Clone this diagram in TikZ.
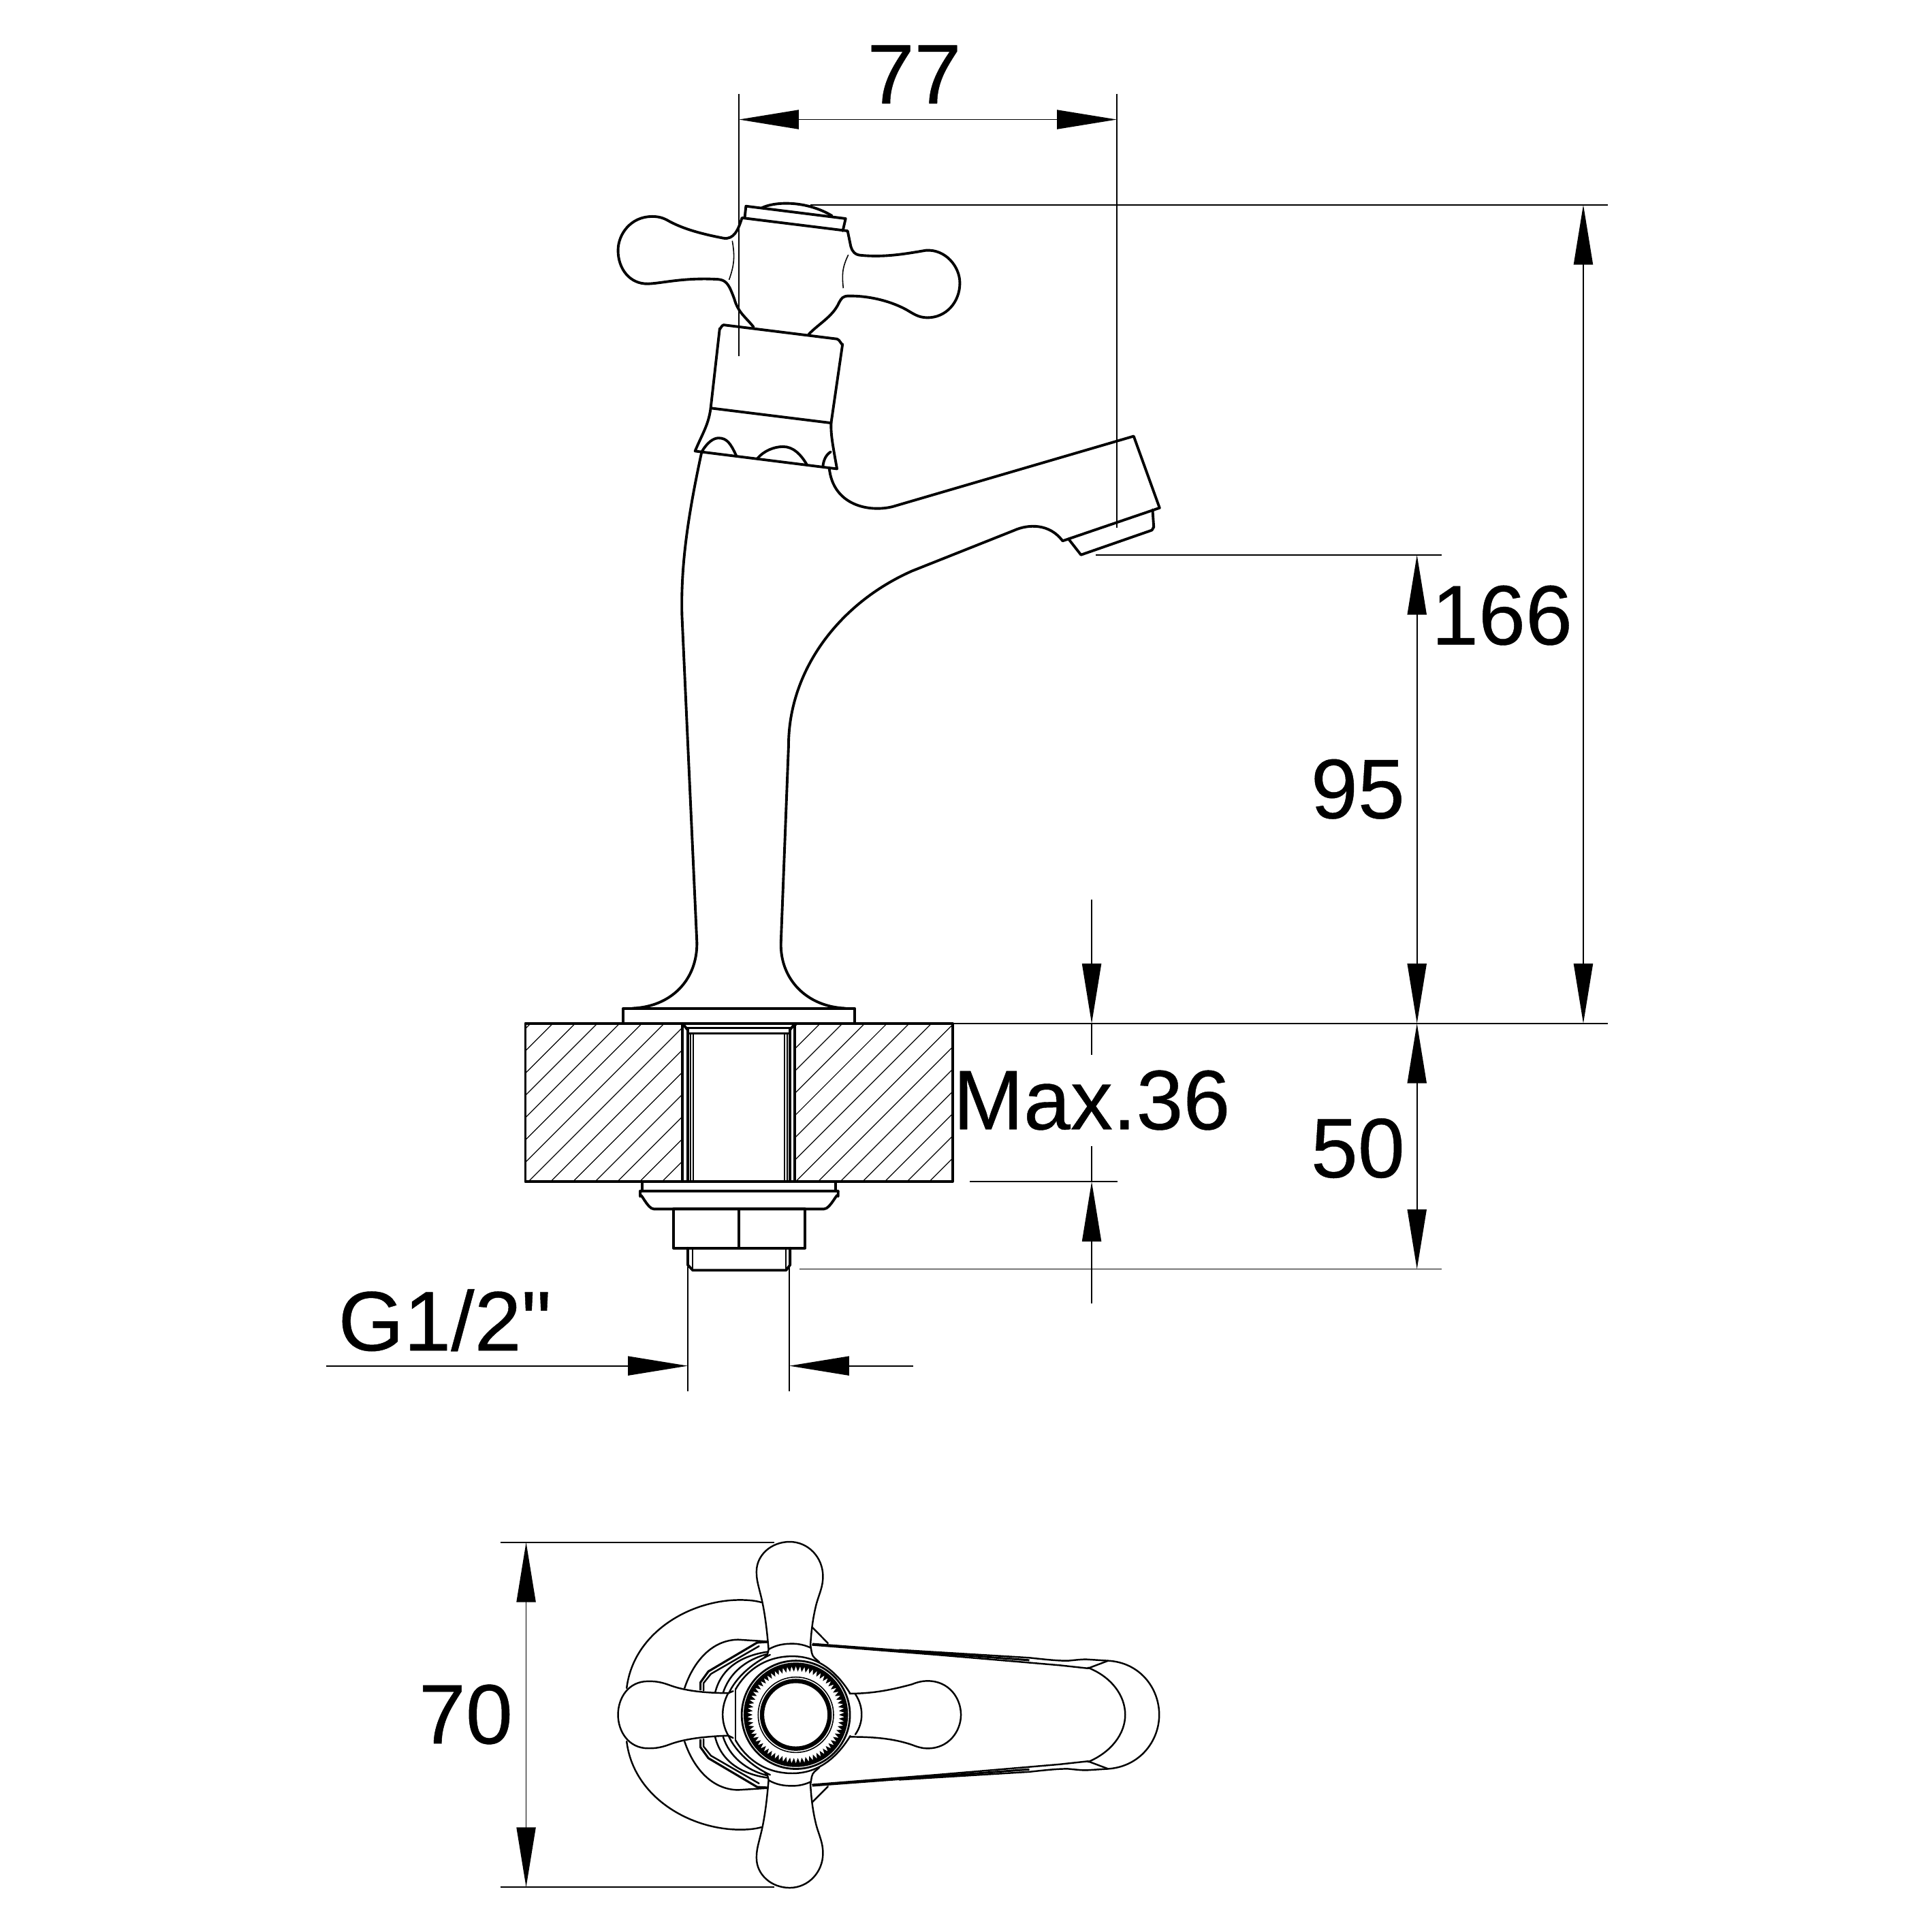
\documentclass[tikz,border=0pt]{standalone}
\usepackage{fontspec}
\setmainfont{Liberation Sans}
\newfontfamily\dimf[FakeBold=0.35]{Liberation Sans}
\usetikzlibrary{arrows.meta}
\tikzset{
 main/.style={line width=1.1pt,line join=round,line cap=round},
 fine/.style={line width=0.45pt},
 topv/.style={line width=0.7pt,line join=round,line cap=round},
 dimline/.style={line width=0.5pt},
 dimarrow/.style={line width=0.5pt,-{Triangle[length=25pt,width=8pt]}},
 dimboth/.style={line width=0.5pt,{Triangle[length=25pt,width=8pt]}-{Triangle[length=25pt,width=8pt]}},
 dimtext/.style={font=\dimf\fontsize{35.3}{35.3}\selectfont,inner sep=0pt,anchor=base},
}
\newcommand{\halfview}{%
 % flange
 \draw[topv] (508.6,1370.1) .. controls (514,1325) and (560,1298.5) .. (600.6,1298.5) .. controls (607,1298.5) and (613,1299) .. (618.1,1300.5);
 \draw[topv] (659.3,1320.8)--(672,1333.6);
 % nut arc
 \draw[topv] (555.6,1370) .. controls (563,1348) and (578,1331) .. (599,1330.7)--(622.8,1332.2);
 % hex nut
 \draw[line width=0.9pt,line join=round] (568.5,1371.8)--(568.5,1365.4)--(574.9,1356.5)--(614.5,1333.1)--(622.8,1332.6);
 \draw[topv] (571,1372)--(571,1366)--(577,1358.5)--(616,1336);
 % inner arcs
 \draw[topv] (580.4,1373.7) .. controls (585,1355) and (600,1344) .. (622.8,1340.6);
 \draw[topv] (586.9,1373.7) .. controls (592,1358) and (605,1347) .. (622.8,1342.4);
 \draw[topv] (591.5,1374.2) .. controls (597,1362) and (610,1350) .. (625,1343);
 % spout edges
 \draw[line width=0.85pt] (659.3,1334.2)--(730,1339.5)--(835.4,1347.4);
 \draw[topv] (730,1339)--(835.4,1345.4) .. controls (850,1347) and (860,1348) .. (867.2,1347.8) .. controls (875,1347) and (880,1346.5) .. (883,1346.8)--(898.9,1347.8);
 \draw[topv] (659.3,1335)--(760,1343)--(835.4,1349.4)--(860,1351.5)--(883,1354);
 \draw[topv] (883,1354)--(898.9,1348);
 % top handle
 \draw[topv] (623.5,1335.6) .. controls (622,1318) and (620,1305) .. (617.5,1295) .. controls (615,1285) and (614,1282) .. (614,1275.4) .. controls (614,1262) and (626,1251.3) .. (640.9,1251.3) .. controls (656,1251.3) and (667.9,1264) .. (667.9,1279.3) .. controls (667.9,1288) and (665,1293) .. (662.5,1302) .. controls (660,1312) and (658.5,1322) .. (657.7,1336);
 % neck
 \draw[topv] (623.8,1338.6) .. controls (630,1335) and (636,1334) .. (643.1,1334) .. controls (648,1334) and (653,1335) .. (657.9,1337.3);
 \draw[topv] (623.5,1335.6)--(623.8,1338.6) to[out=-100,in=30] (620.5,1345);
 \draw[topv] (657.9,1336)--(658.8,1341.4) to[out=-80,in=135] (665,1349);
 % hub circle
 \draw[topv] (597,1371) .. controls (605,1357) and (620,1344.2) .. (643.1,1344.2) .. controls (665,1344.2) and (680,1358) .. (690.1,1374.6);
 \draw[topv] (597,1370.9)--(597,1391.7);
}
\begin{document}
\begin{tikzpicture}[x=0.018093cm,y=-0.018093cm]
\useasboundingbox (0,0) rectangle (1568,1568);
% ---------- hatching
\begin{scope}
 \clip (426.4,830.6) rectangle (553.3,959) (645.4,830.6) rectangle (773,959);
 \foreach \k in {0,...,27}{
  \pgfmathsetmacro{\c}{1279.3+\k*18.08-18.08*2}
  \draw[line width=0.35pt] ({\c-800},800)--({\c-1000},1000);
 }
\end{scope}
% ---------- block
\draw[main] (426.4,830.6) rectangle (773,959);
\draw[main] (505.9,830.6)--(505.9,818.3)--(693.5,818.3)--(693.5,830.6);
% ---------- through-hole and pipe
\draw[main] (553.9,830.6)--(553.9,959) (558.2,834.6)--(558.2,959);
\draw[main] (645.2,830.6)--(645.2,959) (641,834.6)--(641,959);
\draw[main] (553.9,830.6)--(558.2,836) (645.2,830.6)--(641,836);
\draw[main] (558.2,834.3)--(641,834.3);
\draw[line width=0.6pt] (559,838.7)--(640.5,838.7);
\draw[line width=0.6pt] (560.4,838.7)--(560.4,959) (562.8,838.7)--(562.8,959);
\draw[line width=0.6pt] (636.6,838.7)--(636.6,959) (639,838.7)--(639,959);
% ---------- washers
\draw[main] (521.2,959)--(521.2,966.8) (678.2,959)--(678.2,966.8);
\draw[main] (519.5,966.8)--(680.2,966.8);
\draw[main] (519.5,966.8)--(519.5,971) to[out=90,in=180,looseness=.9] (530.6,981.2)--(668.8,981.2) to[out=0,in=90,looseness=.9] (680.2,971)--(680.2,966.8);
% ---------- nut
\draw[main] (546.6,981.2) rectangle (653.3,1012.9);
\draw[main] (599.7,981.2)--(599.7,1012.9);
\draw[main] (558.2,1012.9)--(558.2,1026.6)--(562.2,1030.9)--(638,1030.9)--(641.2,1026.6)--(641.2,1012.9);
\draw[line width=0.6pt] (562.2,1012.9)--(562.2,1030) (638,1012.9)--(638,1030);
% ---------- faucet side outline
\draw[main] (569.5,366.7) .. controls (558,420) and (552.4,460) .. (553.5,500)--(565.6,765);
\draw[main] (565.6,765) .. controls (566,795) and (545,817) .. (513.3,818.3);
\draw[main] (633.8,765) .. controls (633,795) and (655,817) .. (686,818.3);
\draw[main] (633.8,765)--(640,605) .. controls (640,545) and (680,490) .. (740.2,463.4)--(822.7,430.6) .. controls (835,425) and (852,425) .. (862.4,439)--(941.1,412.2)--(920.1,354)--(724.4,411.2) .. controls (705,416) and (676,410) .. (673,379.8);
% aerator
\draw[main] (867.2,437.4)--(877.3,450.3)--(934,430.6) to[out=-20,in=90,looseness=1] (936.4,428)--(935.4,413.7);
% collar
\draw[main] (584.1,266.7) to[out=-90,in=180,looseness=1] (587.3,263.7)--(679.3,275.1) to[out=0,in=-90,looseness=.8] (683.8,279.4)--(674.6,342.8);
\draw[main] (584.1,266.7)--(576.8,331.2);
\draw[main] (576.8,331.2)--(674.6,343.3);
\draw[main] (576.8,331.2) .. controls (575,345) and (570,352) .. (564.1,366.1)--(679.3,380.5) .. controls (676,362) and (674,352) .. (674.6,342.8);
\draw[main] (569.5,366.7) .. controls (574,359) and (579,355.5) .. (583.2,355.5) .. controls (590,355.5) and (593,360) .. (597.5,369.7);
\draw[main] (614.9,371.8) .. controls (620,366) and (628,362.5) .. (635.5,362.5) .. controls (644,362.5) and (650,369) .. (654.6,376.7);
\draw[main] (667.9,378.1) .. controls (668.5,373) and (670.5,369) .. (674.2,366.7);
% cross handle side view
\draw[main] (602.2,176.8) .. controls (599,187) and (595.5,194.5) .. (587.3,193.3)
 .. controls (570,190) and (555,186) .. (543,179.5)
 .. controls (538,176.5) and (534,175.7) .. (529.2,175.7)
 .. controls (512,175.7) and (501.6,190) .. (501.6,203.2)
 .. controls (501.6,218) and (511,230.7) .. (526,230.3)
 .. controls (537,230) and (555,225) .. (583,226.7)
 .. controls (590,227.3) and (592,232) .. (595.9,242.4)
 .. controls (599,254) and (606,258) .. (611.7,265.6);
\draw[main] (687.9,187.4)--(690.5,200) .. controls (691.5,204) and (694,207) .. (699,207.2)
 .. controls (718,209) and (735,206) .. (751.4,203.2)
 .. controls (767,202) and (779,216) .. (779,229.7)
 .. controls (779,245) and (768,258) .. (752.3,257.8)
 .. controls (745,257.5) and (742,255) .. (735,251)
 .. controls (720,243) and (702,240) .. (689.5,240.2)
 .. controls (684,240) and (683,242) .. (681,245.5)
 .. controls (676,257) and (664,263) .. (656.2,271.5);
\draw[fine] (594.3,195.4) .. controls (596.5,208) and (596,215) .. (591.7,227.1);
\draw[fine] (688.5,206.8) .. controls (683,218) and (683.5,224) .. (684.4,233.9);
% cap
\draw[main] (602.2,176.8)--(687.9,187.4);
\draw[main] (604.4,176.8)--(605.4,167.3)--(686.3,177.4)--(684,187.4);
\draw[main] (618,168.8) .. controls (630,163) and (655,163) .. (675.2,175.1);
% ---------- dimension lines
\draw[dimline] (599.7,76)--(599.7,288.9);
\draw[dimline] (906.4,76)--(906.4,428.5);
\draw[dimboth] (599.7,97)--(906.4,97);
\node[dimtext] (d77) at (742,84) {77};
\draw[dimline] (657.7,166.2)--(1305,166.2);
\draw[dimline] (773,830.6)--(1305,830.6);
\draw[dimboth] (1285,166.2)--(1285,830.6);
\node[dimtext] (d166) at (1219,523) {166};
\draw[dimline] (889.4,450.3)--(1170,450.3);
\draw[dimboth] (1150,450.3)--(1150,830.6);
\node[dimtext] (d95) at (1102,664) {95};
\draw[dimline] (648.6,1030)--(1170,1030);
\draw[dimboth] (1150,830.6)--(1150,1030);
\node[dimtext] (d50) at (1102,955.5) {50};
\draw[dimarrow] (886,730)--(886,830.6);
\draw[dimline] (886,830.6)--(886,856);
\draw[dimarrow] (886,1058)--(886,959);
\draw[dimline] (886,959)--(886,930);
\draw[dimline] (787,959)--(907,959);
\node[dimtext] (dmax) at (886,916.5) {Max.36};
\draw[dimline] (558.2,1028)--(558.2,1129);
\draw[dimline] (640.6,1028)--(640.6,1129);
\draw[dimarrow] (265,1108.5)--(558.2,1108.5);
\draw[dimarrow] (741,1108.5)--(640.6,1108.5);
\node[dimtext] (dg) at (361,1096) {G1/2"};
\draw[dimline] (406,1251.7)--(628.6,1251.7);
\draw[dimline] (406,1531.6)--(628.6,1531.6);
\draw[dimboth] (427,1251.7)--(427,1531.6);
\node[dimtext] (d70) at (378,1415) {70};
% ---------- top view
\halfview
\begin{scope}[shift={(0,2783.4)},yscale=-1]
 \halfview
\end{scope}
% spout end
\draw[topv] (898.9,1347.8) .. controls (925,1349) and (940.8,1370) .. (940.8,1391.7) .. controls (940.8,1413) and (925,1434) .. (898.9,1435.6);
\draw[topv] (883,1353.4) .. controls (902,1361) and (913.2,1376) .. (913.2,1391.7) .. controls (913.2,1407) and (902,1422) .. (883,1430);
% side handles
\draw[topv] (591.1,1374.1) .. controls (570,1374) and (555,1372) .. (543,1367.5) .. controls (535,1364.5) and (530,1364.5) .. (526,1364.5) .. controls (510,1364.5) and (501.6,1378) .. (501.6,1391.7) .. controls (501.6,1405) and (510,1418.9) .. (526,1418.9) .. controls (530,1418.9) and (535,1418.9) .. (543,1415.9) .. controls (555,1411.4) and (570,1409.4) .. (591.1,1408.6);
\draw[topv] (591.1,1374.1)--(595,1372.5);
\draw[topv] (591.1,1408.6)--(595,1410.5);
\draw[topv] (591.1,1374) .. controls (585,1385) and (585,1398) .. (591.1,1408.6);
\draw[topv] (689.5,1374.5) .. controls (710,1374.5) and (725,1371) .. (740,1367) .. controls (745,1365) and (749,1364.2) .. (752.9,1364.2) .. controls (770,1364.2) and (779.9,1378) .. (779.9,1391.7) .. controls (779.9,1405) and (770,1419) .. (752.9,1419) .. controls (749,1419) and (745,1418) .. (740,1416) .. controls (725,1411) and (710,1409.6) .. (689.5,1409.6);
\draw[topv] (694.2,1375) .. controls (701,1385) and (701,1398) .. (694.2,1407.6);
% rings
\begin{scope}[shift={(645.9,1391.7)}]
 \draw[line width=0.8pt] (0,0) circle[radius=43.9];
 \draw[line width=0.8pt] (0,0) circle[radius=41.6];
 \fill[even odd rule,draw=none] plot[samples=141,domain=0:140,variable=\i] ({(35.1+4.4*mod(\i,2))*cos(\i*2.5714)},{(35.1+4.4*mod(\i,2))*sin(\i*2.5714)}) -- cycle (0,0) circle[radius=41];
 \fill[even odd rule] (0,0) circle[radius=29.2] (0,0) circle[radius=25.7];
 \draw[line width=0.45pt] (0,0) circle[radius=30.6];
\end{scope}
\end{tikzpicture}
\end{document}
